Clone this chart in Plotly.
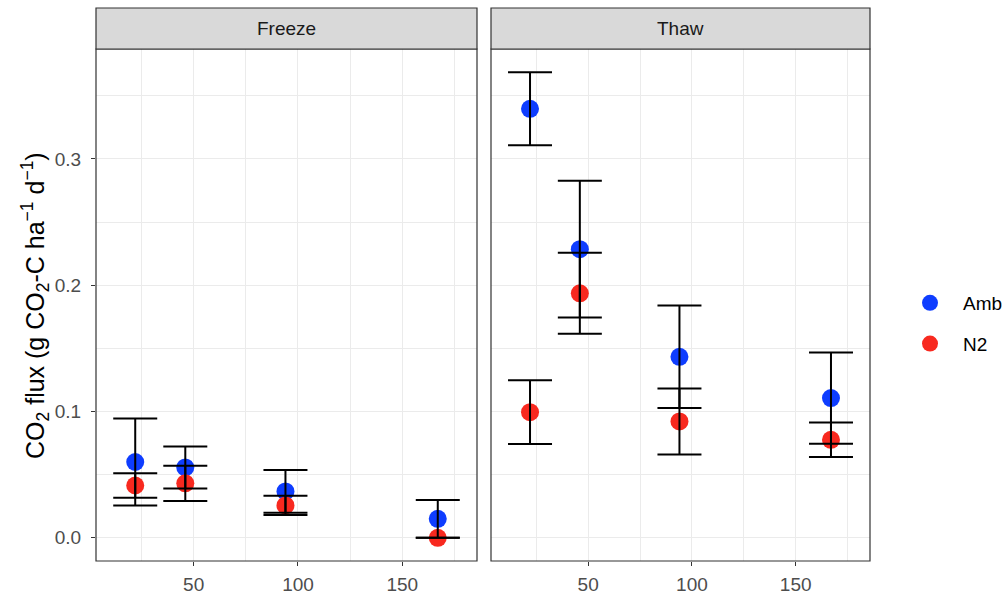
import plotly.graph_objects as go

# Sampling day and CO2 flux (mean and standard error) by phase and treatment
days = [22, 46, 94, 167]
phases = ["Freeze", "Thaw"]
treatments = ["Amb", "N2"]

freeze_amb = [0.060, 0.0557, 0.0367, 0.015]
freeze_amb_se = [0.0345, 0.0166, 0.0169, 0.015]
freeze_n2 = [0.0414, 0.0431, 0.0256, 0.0]
freeze_n2_se = [0.0097, 0.0139, 0.0076, 0.0]

thaw_amb = [0.3397, 0.2286, 0.1433, 0.1106]
thaw_amb_se = [0.0289, 0.0541, 0.0406, 0.0361]
thaw_n2 = [0.0995, 0.1936, 0.0921, 0.0776]
thaw_n2_se = [0.0253, 0.0321, 0.0261, 0.0137]

values = {
    ("Freeze", "Amb"): (freeze_amb, freeze_amb_se),
    ("Freeze", "N2"): (freeze_n2, freeze_n2_se),
    ("Thaw", "Amb"): (thaw_amb, thaw_amb_se),
    ("Thaw", "N2"): (thaw_n2, thaw_n2_se),
}
colors = {"Amb": "#0E3DFF", "N2": "#F8291F"}

FONT = "Liberation Sans, Arial, sans-serif"
W, H = 1006, 598
ML, MR, MT, MB = 96, 136, 8, 37
PW = W - ML - MR
PH = H - MT - MB
dom_freeze = [0, 381 / PW]
dom_thaw = [(491 - ML) / PW, 1]
panel_top = (561 - 49) / PH

fig = go.Figure()

axis_map = {"Freeze": ("x", "y"), "Thaw": ("x2", "y2")}

# points first, then error bars so the bars sit on top of the markers
for phase in phases:
    xa, ya = axis_map[phase]
    for tr in treatments:
        vals, se = values[(phase, tr)]
        fig.add_trace(go.Scatter(
            x=days, y=vals, mode="markers", xaxis=xa, yaxis=ya,
            marker=dict(size=18, color=colors[tr], line=dict(width=0)),
            name=tr, legendgroup=tr, showlegend=(phase == "Freeze"),
        ))
for phase in phases:
    xa, ya = axis_map[phase]
    for tr in treatments:
        vals, se = values[(phase, tr)]
        fig.add_trace(go.Scatter(
            x=days, y=vals, mode="markers", xaxis=xa, yaxis=ya,
            marker=dict(size=1, opacity=0),
            error_y=dict(type="data", array=se, visible=True,
                         color="black", thickness=2, width=22),
            showlegend=False, hoverinfo="skip",
        ))

grid = "#EBEBEB"
tickfont = dict(family=FONT, size=19, color="#4D4D4D")
xcommon = dict(range=[3.2, 185.8], tickvals=[50, 100, 150], showgrid=True,
               gridcolor=grid, gridwidth=1.4, zeroline=False,
               ticks="outside", ticklen=4, tickcolor="#333333", tickwidth=1,
               tickfont=tickfont, ticklabelstandoff=2,
               minor=dict(tickvals=[25, 75, 125, 175], showgrid=True,
                          gridcolor=grid, gridwidth=0.8, ticks=""),
               showline=False, automargin=False)
ycommon = dict(range=[-0.0184, 0.3871], tickvals=[0, 0.1, 0.2, 0.3],
               ticktext=["0.0", "0.1", "0.2", "0.3"], showgrid=True,
               gridcolor=grid, gridwidth=1.4, zeroline=False, tickfont=tickfont,
               minor=dict(tickvals=[0.05, 0.15, 0.25, 0.35], showgrid=True,
                          gridcolor=grid, gridwidth=0.8, ticks=""),
               domain=[0, panel_top], showline=False, automargin=False)

fig.update_layout(
    xaxis=dict(domain=dom_freeze, anchor="y", **xcommon),
    xaxis2=dict(domain=dom_thaw, anchor="y2", **xcommon),
    yaxis=dict(anchor="x", ticks="outside", ticklen=4, tickcolor="#333333",
               tickwidth=1, ticklabelstandoff=6, **ycommon),
    yaxis2=dict(anchor="x2", matches="y", showticklabels=False, ticks="", **ycommon),
)

# panel borders and facet strips
shapes = []
annotations = []
for phase, dom in (("Freeze", dom_freeze), ("Thaw", dom_thaw)):
    shapes.append(dict(type="rect", xref="paper", yref="paper",
                       x0=dom[0], x1=dom[1], y0=0, y1=panel_top,
                       line=dict(color="#333333", width=1.2), layer="above"))
    shapes.append(dict(type="rect", xref="paper", yref="paper",
                       x0=dom[0], x1=dom[1], y0=panel_top, y1=1,
                       fillcolor="#D9D9D9", line=dict(color="#333333", width=1.2)))
    annotations.append(dict(text=phase, xref="paper", yref="paper",
                            x=(dom[0] + dom[1]) / 2, y=(panel_top + 1) / 2,
                            xanchor="center", yanchor="middle", showarrow=False,
                            font=dict(family=FONT, size=19, color="#1A1A1A")))

annotations.append(dict(
    text="CO<sub>2</sub> flux (g CO<sub>2</sub>-C ha<sup>−1</sup> d<sup>−1</sup>)",
    xref="paper", yref="paper", x=(35 - ML) / PW, y=(561 - 306) / PH,
    xanchor="center", yanchor="middle", textangle=-90, showarrow=False,
    font=dict(family=FONT, size=25, color="black")))

fig.update_layout(
    width=W, height=H,
    margin=dict(l=ML, r=MR, t=MT, b=MB, autoexpand=False),
    paper_bgcolor="white", plot_bgcolor="white",
    shapes=shapes, annotations=annotations,
    legend=dict(x=(897 - ML) / PW, y=(561 - 284) / PH, xanchor="left", yanchor="top",
                font=dict(family=FONT, size=19, color="black"),
                tracegroupgap=13, itemsizing="trace", itemwidth=56,
                bgcolor="rgba(0,0,0,0)"),
    showlegend=True,
)

fig.write_html("out.html")
